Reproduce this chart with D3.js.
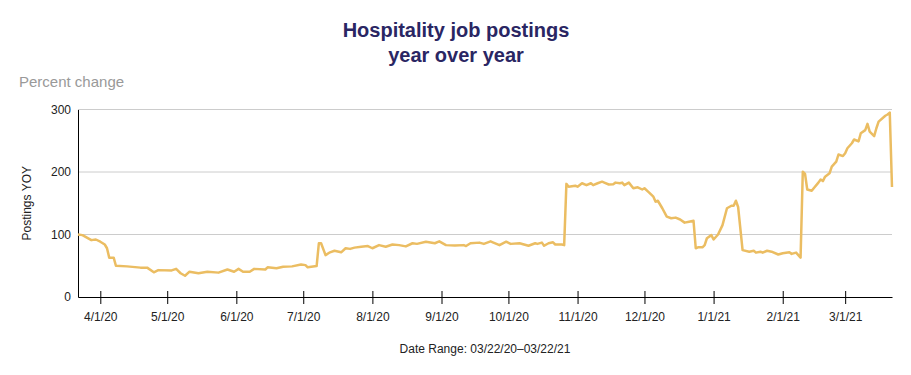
<!DOCTYPE html>
<html>
<head>
<meta charset="utf-8">
<script src="https://cdn.jsdelivr.net/npm/d3@7"></script>
<style>
  body { margin: 0; background: #fff; }
  svg { display: block; font-family: "Liberation Sans", Arial, sans-serif; }
</style>
</head>
<body>
<svg id="chart" width="911" height="375"></svg>
<script>
// daily-ish readings of the YOY postings line
const dates = [
  '2020-03-22','2020-03-24','2020-03-28','2020-03-30','2020-04-01','2020-04-03','2020-04-04','2020-04-05',
  '2020-04-07','2020-04-08','2020-04-13','2020-04-19','2020-04-22','2020-04-25','2020-04-27','2020-05-03',
  '2020-05-05','2020-05-07','2020-05-09','2020-05-11','2020-05-15','2020-05-19','2020-05-24','2020-05-28',
  '2020-05-31','2020-06-02','2020-06-04','2020-06-07','2020-06-09','2020-06-14','2020-06-15','2020-06-19',
  '2020-06-22','2020-06-26','2020-06-30','2020-07-02','2020-07-03','2020-07-07','2020-07-08','2020-07-09',
  '2020-07-11','2020-07-13','2020-07-15','2020-07-18','2020-07-20','2020-07-22','2020-07-24','2020-07-27',
  '2020-07-30','2020-08-01','2020-08-04','2020-08-07','2020-08-10','2020-08-13','2020-08-16','2020-08-19',
  '2020-08-21','2020-08-25','2020-08-29','2020-08-31','2020-09-03','2020-09-07','2020-09-11','2020-09-12',
  '2020-09-14','2020-09-18','2020-09-20','2020-09-23','2020-09-24','2020-09-27','2020-09-30','2020-10-02',
  '2020-10-06','2020-10-10','2020-10-13','2020-10-14','2020-10-16','2020-10-17','2020-10-19','2020-10-21',
  '2020-10-22','2020-10-25','2020-10-26','2020-10-27','2020-10-28','2020-10-31','2020-11-01','2020-11-03',
  '2020-11-05','2020-11-07','2020-11-08','2020-11-10','2020-11-12','2020-11-13','2020-11-15','2020-11-17',
  '2020-11-18','2020-11-20','2020-11-21','2020-11-22','2020-11-24','2020-11-26','2020-11-28','2020-11-30',
  '2020-12-01','2020-12-03','2020-12-05','2020-12-06','2020-12-07','2020-12-09','2020-12-11','2020-12-13',
  '2020-12-15','2020-12-17','2020-12-19','2020-12-21','2020-12-23','2020-12-24','2020-12-25','2020-12-27',
  '2020-12-28','2020-12-29','2020-12-31','2021-01-01','2021-01-03','2021-01-05','2021-01-07','2021-01-09',
  '2021-01-10','2021-01-11','2021-01-12','2021-01-14','2021-01-17','2021-01-19','2021-01-20','2021-01-22',
  '2021-01-23','2021-01-25','2021-01-27','2021-01-30','2021-02-01','2021-02-04','2021-02-05','2021-02-07',
  '2021-02-08','2021-02-09','2021-02-10','2021-02-11','2021-02-12','2021-02-14','2021-02-15','2021-02-17',
  '2021-02-18','2021-02-19','2021-02-20','2021-02-22','2021-02-23','2021-02-25','2021-02-26','2021-02-28',
  '2021-03-01','2021-03-02','2021-03-04','2021-03-05','2021-03-07','2021-03-08','2021-03-10','2021-03-11',
  '2021-03-12','2021-03-14','2021-03-15','2021-03-16','2021-03-19','2021-03-20','2021-03-21','2021-03-22'
];
const postingsYoy = [
  100, 99, 91, 92, 88.5, 84, 78, 63,
  63, 50, 49, 47, 47, 39.5, 43, 42.5,
  45, 38, 34, 40.5, 38, 40.5, 39, 44,
  40.5, 45, 40.5, 40.5, 45, 44, 47.5, 46,
  48.5, 49, 52, 51, 47.5, 49.5, 86, 86,
  67, 71.5, 74, 71.5, 78, 77, 79, 80.5,
  81.5, 78, 83, 80.5, 84, 83, 81, 86,
  85, 88.5, 86, 89, 83, 82.5, 83, 81.5,
  86, 87, 85, 89, 87.5, 83, 88.5, 85,
  86, 82, 86, 85, 87, 82, 86, 87.5,
  84, 84, 83, 181, 176.5, 178, 176.5, 182,
  179, 182, 179, 182, 184.5, 183, 180, 180.5,
  183, 182, 183, 179, 183, 174, 175.5, 172,
  174, 167.5, 160.5, 152.5, 154, 142, 128.5, 126,
  127, 124, 119, 120.5, 122, 78, 79.5, 79.5,
  83, 94, 99, 92, 100, 115, 142, 146,
  146, 154, 144, 75, 72.5, 74, 71, 72.5,
  71, 74, 72.5, 68, 70, 71.5, 69, 71,
  67, 63, 200.5, 197, 172, 170, 174.5, 183,
  188, 185.5, 192.5, 198, 208.5, 216.5, 228, 225.5,
  230, 238, 246, 252, 249, 262, 267, 277,
  264.5, 257.5, 270, 280.5, 290, 292, 295, 176
];
const yTicks = [0, 100, 200, 300];
const xTickDates = ['2020-04-01','2020-05-01','2020-06-01','2020-07-01','2020-08-01','2020-09-01',
  '2020-10-01','2020-11-01','2020-12-01','2021-01-01','2021-02-01','2021-03-01'];

const parse = d3.timeParse('%Y-%m-%d');
const series = dates.map((d, i) => ({ date: parse(d), value: postingsYoy[i] }));

const svg = d3.select('#chart');
const margin = { left: 78, right: 19, top: 109.5, bottom: 78 };
const width = 911, height = 375;

const x = d3.scaleTime()
  .domain([parse('2020-03-22'), parse('2021-03-22')])
  .range([margin.left, width - margin.right]);
const y = d3.scaleLinear()
  .domain([0, 300])
  .range([height - margin.bottom, margin.top]);

// title
svg.append('text')
  .attr('x', 456).attr('y', 37)
  .attr('text-anchor', 'middle')
  .attr('font-size', 20).attr('font-weight', 'bold')
  .attr('fill', '#2a2663')
  .text('Hospitality job postings');
svg.append('text')
  .attr('x', 456).attr('y', 62)
  .attr('text-anchor', 'middle')
  .attr('font-size', 20).attr('font-weight', 'bold')
  .attr('fill', '#2a2663')
  .text('year over year');

svg.append('text')
  .attr('x', 19).attr('y', 87)
  .attr('font-size', 15).attr('fill', '#999')
  .text('Percent change');

// gridlines
svg.append('g')
  .selectAll('line')
  .data(yTicks.filter(t => t > 0))
  .join('line')
  .attr('x1', margin.left).attr('x2', width - margin.right)
  .attr('y1', d => y(d)).attr('y2', d => y(d))
  .attr('stroke', '#cccccc').attr('stroke-width', 1);

// y axis
const yAxis = svg.append('g')
  .attr('transform', `translate(${margin.left},0)`)
  .call(d3.axisLeft(y).tickValues(yTicks).tickSize(0).tickPadding(7));
yAxis.select('.domain').attr('stroke', '#000');
yAxis.selectAll('text').attr('font-size', 12).attr('fill', '#222').attr('font-family', 'inherit');

svg.append('text')
  .attr('transform', `translate(31,${(y(0) + y(300)) / 2}) rotate(-90)`)
  .attr('text-anchor', 'middle')
  .attr('font-size', 12).attr('fill', '#222')
  .text('Postings YOY');

// x axis, ticks cross the axis line
const xAxis = svg.append('g')
  .attr('transform', `translate(0,${y(0)})`)
  .call(d3.axisBottom(x)
    .tickValues(xTickDates.map(parse))
    .tickFormat(d3.timeFormat('%-m/%-d/%y'))
    .tickSizeOuter(0).tickSizeInner(7).tickPadding(8));
xAxis.select('.domain').attr('stroke', '#000');
xAxis.selectAll('.tick line').attr('y1', -6).attr('stroke', '#000');
xAxis.selectAll('text').attr('font-size', 12).attr('fill', '#222').attr('font-family', 'inherit');

svg.append('text')
  .attr('x', (x.range()[0] + x.range()[1]) / 2).attr('y', 353)
  .attr('text-anchor', 'middle')
  .attr('font-size', 12).attr('fill', '#222')
  .text('Date Range: 03/22/20\u201303/22/21');

// the line
const line = d3.line()
  .x(d => x(d.date))
  .y(d => y(d.value));

svg.append('path')
  .datum(series)
  .attr('d', line)
  .attr('fill', 'none')
  .attr('stroke', '#ebbd62')
  .attr('stroke-width', 2.5)
  .attr('stroke-linejoin', 'round');
</script>
</body>
</html>
